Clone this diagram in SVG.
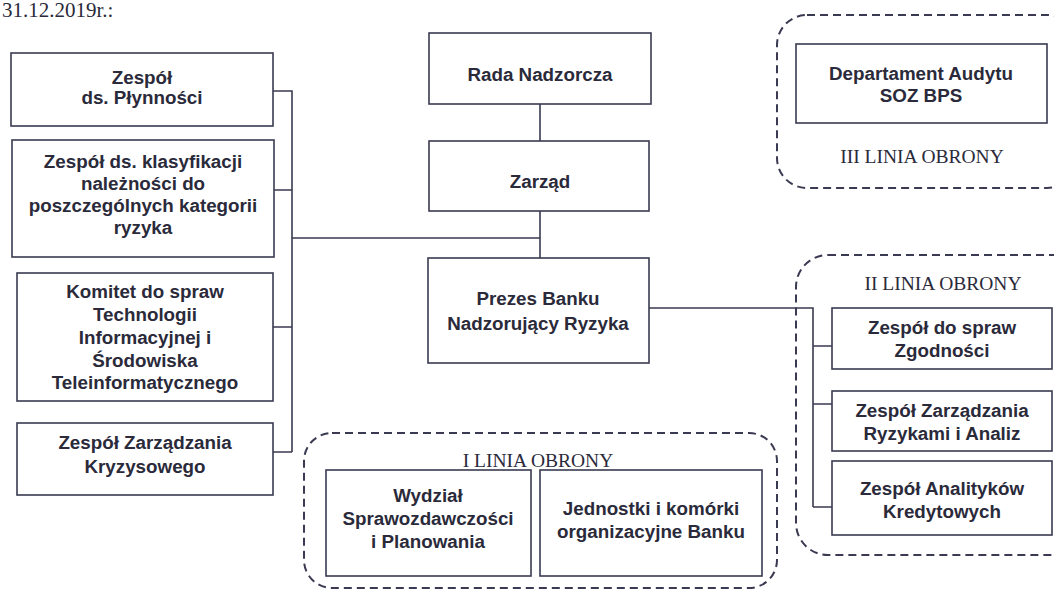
<svg xmlns="http://www.w3.org/2000/svg" width="1054" height="590" viewBox="0 0 1054 590">
<style>
.box{fill:#fff;stroke:#3a3a52;stroke-width:1.6}
.grp{fill:none;stroke:#3a3a52;stroke-width:2;stroke-dasharray:8 5}
.ln{fill:none;stroke:#3a3a52;stroke-width:1.6}
.t{font-family:"Liberation Sans",Arial,sans-serif;font-weight:bold;font-size:18.8px;fill:#2a2a3a;text-anchor:middle}
.s{font-family:"Liberation Serif","Times New Roman",serif;font-size:19.5px;fill:#2a2a3a;text-anchor:middle}
</style>
<rect width="1054" height="590" fill="#fff"/>
<text x="2" y="17" font-family="Liberation Serif, serif" font-size="21" fill="#2a2a3a">31.12.2019r.:</text>

<g id="linia3">
<rect class="grp" x="777" y="15" width="300" height="173" rx="30"/>
<text class="s" x="922" y="163">III LINIA OBRONY</text>
</g>
<g id="linia2">
<rect class="grp" x="796" y="255" width="300" height="300" rx="32"/>
<text class="s" x="943" y="290">II LINIA OBRONY</text>
</g>
<g id="linia1">
<rect class="grp" x="304" y="433" width="473" height="155" rx="28"/>
<text class="s" x="538" y="467">I LINIA OBRONY</text>
</g>

<g id="connectors">
<path class="ln" d="M273 91H292V452M274 190H292M273 327H292M273 452H292M292 238H540"/>
<path class="ln" d="M540 104V141M540 211V258"/>
<path class="ln" d="M649 308H813V507M813 346H832M813 404H832M813 507H832"/>
</g>

<g id="n-plynnosc">
<rect class="box" x="11" y="53" width="262" height="73"/>
<text class="t" x="142" y="84">Zespół</text>
<text class="t" x="142" y="104">ds. Płynności</text>
</g>
<g id="n-klasyfikacja">
<rect class="box" x="12" y="140" width="262" height="117"/>
<text class="t" x="143" y="168">Zespół ds. klasyfikacji</text>
<text class="t" x="143" y="190">należności do</text>
<text class="t" x="143" y="212">poszczególnych kategorii</text>
<text class="t" x="143" y="234">ryzyka</text>
</g>
<g id="n-komitet">
<rect class="box" x="17" y="273" width="256" height="128"/>
<text class="t" x="145" y="298">Komitet do spraw</text>
<text class="t" x="145" y="321">Technologii</text>
<text class="t" x="145" y="344">Informacyjnej i</text>
<text class="t" x="145" y="367">Środowiska</text>
<text class="t" x="145" y="389">Teleinformatycznego</text>
</g>
<g id="n-kryzys">
<rect class="box" x="17" y="423" width="256" height="72"/>
<text class="t" x="145" y="449">Zespół Zarządzania</text>
<text class="t" x="145" y="473">Kryzysowego</text>
</g>
<g id="n-rada">
<rect class="box" x="429" y="33" width="222" height="71"/>
<text class="t" x="540" y="81">Rada Nadzorcza</text>
</g>
<g id="n-zarzad">
<rect class="box" x="429" y="141" width="220" height="70"/>
<text class="t" x="540" y="188">Zarząd</text>
</g>
<g id="n-prezes">
<rect class="box" x="428" y="258" width="221" height="105"/>
<text class="t" x="538" y="305">Prezes Banku</text>
<text class="t" x="538" y="330">Nadzorujący Ryzyka</text>
</g>
<g id="n-audyt">
<rect class="box" x="796" y="44" width="251" height="79"/>
<text class="t" x="921" y="80">Departament Audytu</text>
<text class="t" x="921" y="102">SOZ BPS</text>
</g>
<g id="n-zgodnosc">
<rect class="box" x="832" y="308" width="220" height="61"/>
<text class="t" x="942" y="334">Zespół do spraw</text>
<text class="t" x="942" y="357">Zgodności</text>
</g>
<g id="n-ryzyka">
<rect class="box" x="832" y="391" width="220" height="60"/>
<text class="t" x="942" y="417">Zespół Zarządzania</text>
<text class="t" x="942" y="440">Ryzykami i Analiz</text>
</g>
<g id="n-analitycy">
<rect class="box" x="832" y="461" width="220" height="74"/>
<text class="t" x="942" y="495">Zespół Analityków</text>
<text class="t" x="942" y="518">Kredytowych</text>
</g>
<g id="n-wydzial">
<rect class="box" x="326" y="470" width="205" height="106"/>
<text class="t" x="428" y="502">Wydział</text>
<text class="t" x="428" y="525">Sprawozdawczości</text>
<text class="t" x="428" y="548">i Planowania</text>
</g>
<g id="n-jednostki">
<rect class="box" x="540" y="470" width="222" height="106"/>
<text class="t" x="651" y="515">Jednostki i komórki</text>
<text class="t" x="651" y="538">organizacyjne Banku</text>
</g>
</svg>
